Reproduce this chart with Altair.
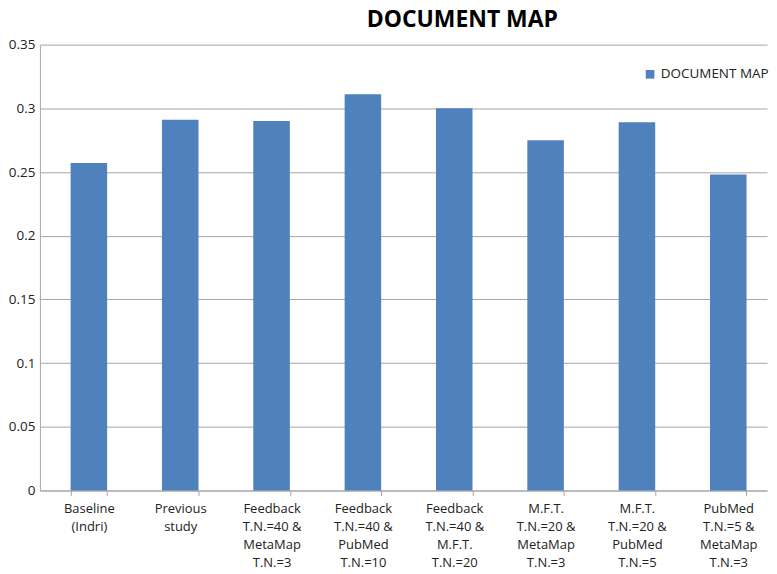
import altair as alt
import pandas as pd

categories = [
    "Baseline\n(Indri)",
    "Previous\nstudy",
    "Feedback\nT.N.=40 &\nMetaMap\nT.N.=3",
    "Feedback\nT.N.=40 &\nPubMed\nT.N.=10",
    "Feedback\nT.N.=40 &\nM.F.T.\nT.N.=20",
    "M.F.T.\nT.N.=20 &\nMetaMap\nT.N.=3",
    "M.F.T.\nT.N.=20 &\nPubMed\nT.N.=5",
    "PubMed\nT.N.=5 &\nMetaMap\nT.N.=3",
]
values = [0.257, 0.291, 0.290, 0.311, 0.300, 0.275, 0.289, 0.248]
series = "DOCUMENT MAP"

df = pd.DataFrame({"cat": categories, "val": values, "series": [series] * len(values)})

FONT = "Open Sans"
GRID = "#a6a6a6"

chart = (
    alt.Chart(df)
    .mark_bar(color="#4f81bd")
    .encode(
        x=alt.X(
            "cat:N",
            sort=categories,
            title=None,
            scale=alt.Scale(paddingInner=0.6, paddingOuter=0.28, align=0.6),
            axis=alt.Axis(
                labelAngle=0,
                labelExpr="split(datum.label, '\\n')",
                labelFont=FONT,
                labelFontSize=13,
                labelColor="#222222",
                labelLineHeight=18,
                labelPadding=7,
                labelBaseline="top",
                tickBand="extent",
                tickSize=5,
                tickColor=GRID,
                domainColor=GRID,
                labelLimit=200,
            ),
        ),
        y=alt.Y(
            "val:Q",
            title=None,
            scale=alt.Scale(domain=[0, 0.35]),
            axis=alt.Axis(
                values=[0, 0.05, 0.1, 0.15, 0.2, 0.25, 0.3, 0.35],
                labelExpr="datum.value == 0 ? '0' : format(datum.value, '.2~f')",
                labelFont=FONT,
                labelFontSize=13.5,
                labelColor="#222222",
                labelPadding=5,
                ticks=False,
                gridColor=GRID,
                domainColor=GRID,
            ),
        ),
        fill=alt.Fill(
            "series:N",
            scale=alt.Scale(range=["#4f81bd"]),
            legend=alt.Legend(
                title=None,
                orient="none",
                legendX=605,
                legendY=23,
                symbolType="square",
                symbolSize=75,
                symbolStrokeWidth=0,
                labelFont=FONT,
                labelFontSize=13.5,
                labelColor="#222222",
            ),
        ),
    )
    .properties(
        width=729,
        height=447,
        padding={"left": 0, "top": 0, "right": 0, "bottom": 0},
        title=alt.TitleParams(
            "DOCUMENT MAP",
            font=FONT,
            fontSize=23,
            fontWeight="bold",
            color="#000000",
            anchor="middle",
            dx=59,
            offset=6,
        ),
    )
    .configure_view(stroke=None)
)

chart.save("out.html", embed_options={"renderer": "svg", "actions": False})
